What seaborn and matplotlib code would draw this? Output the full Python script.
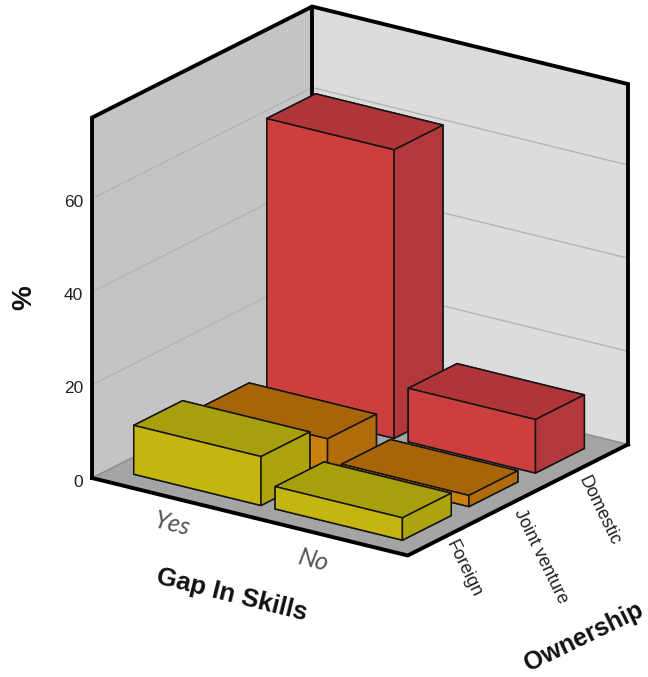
import matplotlib
matplotlib.use("Agg")
import matplotlib.pyplot as plt
import numpy as np
import pandas as pd
import seaborn as sns
from mpl_toolkits.mplot3d import proj3d
from mpl_toolkits.mplot3d.art3d import Poly3DCollection

# Survey percentages by skills gap and ownership type
gap_levels = ["Yes", "No"]
ownership_levels = ["Foreign", "Joint venture", "Domestic"]
pct_foreign = [10.5, 4.8]
pct_joint = [7.1, 2.4]
pct_domestic = [62.0, 11.5]
z_ticks = [0, 20, 40, 60]
z_top = 77.4

table = pd.DataFrame(
    {"Foreign": pct_foreign, "Joint venture": pct_joint, "Domestic": pct_domestic},
    index=gap_levels,
)

# Face shades per ownership type: front, top, side
face_shades = {
    "Foreign": sns.color_palette(["#c4b60e", "#a89f0c", "#ada30c"]),
    "Joint venture": sns.color_palette(["#c9800f", "#a86508", "#b06c0a"]),
    "Domestic": sns.color_palette(["#cd3f3f", "#af3538", "#b2383b"]),
}

sns.set_theme(style="white")
plt.rcParams["font.family"] = ["Liberation Sans", "DejaVu Sans"]

W, H = 648, 677
fig = plt.figure(figsize=(W / 100, H / 100), dpi=100, facecolor="white")
ax = fig.add_axes([0, 0, 1, 1], projection="3d", computed_zorder=False)
ax.set_proj_type("ortho")
ax.view_init(elev=20.6, azim=-55.1)
ax.set_axis_off()

xlo, xhi = -0.613, 1.620
ylo, yhi = -0.648, 2.662
ax.set_xlim(xlo, xhi)
ax.set_ylim(ylo, yhi)
ax.set_zlim(0, z_top)
ax.set_box_aspect((1, 1, 1), zoom=1.0)


def screen(x, y, z):
    """Display-space pixel position of a data point."""
    ax.apply_aspect()
    px, py, _ = proj3d.proj_transform(x, y, z, ax.get_proj())
    return ax.transData.transform((px, py))


# Scale and place the cube so the floor spans its intended pixel box
span = screen(xhi, yhi, 0)[0] - screen(xlo, ylo, 0)[0]
ax.set_box_aspect((1, 1, 1), zoom=536.0 / span)
corner = screen(xlo, ylo, 0)
ax.set_position([(92 - corner[0]) / W, ((H - 478) - corner[1]) / H, 1, 1])

# Walls and floor
left_wall = [(xlo, ylo, 0), (xlo, yhi, 0), (xlo, yhi, z_top), (xlo, ylo, z_top)]
right_wall = [(xlo, yhi, 0), (xhi, yhi, 0), (xhi, yhi, z_top), (xlo, yhi, z_top)]
floor = [(xlo, ylo, 0), (xhi, ylo, 0), (xhi, yhi, 0), (xlo, yhi, 0)]
for verts, shade in [(left_wall, "#c4c4c4"), (right_wall, "#dcdcdc"), (floor, "#a4a4a4")]:
    ax.add_collection3d(
        Poly3DCollection([verts], facecolor=shade, edgecolor="none", zorder=1),
        autolim=False,
    )

# Value gridlines running along both walls
for z in z_ticks:
    ax.plot([xlo, xlo, xhi], [ylo, yhi, yhi], [z, z, z],
            color="#b4b4b4" if z else "#8c8c8c", lw=1.0, zorder=2)

# Heavy frame around the cube
frame_lw = 2.8
frame_paths = [
    ([xlo, xlo, xlo, xhi, xhi], [ylo, ylo, yhi, yhi, yhi], [0, z_top, z_top, z_top, 0]),
    ([xlo, xlo], [yhi, yhi], [z_top, 0]),
    ([xlo, xhi, xhi], [ylo, ylo, yhi], [0, 0, 0]),
]
for xs, ys, zs in frame_paths:
    ax.plot(xs, ys, zs, color="black", lw=frame_lw, zorder=3,
            solid_joinstyle="miter", solid_capstyle="projecting")

# Bars from the back row forward, left to right inside a row
bar_w, bar_d = 0.90, 0.734
order = 10
for row in reversed(ownership_levels):
    front, top, side = face_shades[row]
    y_pos = ownership_levels.index(row)
    for x_pos, level in enumerate(gap_levels):
        # Faces in bar3d order: -z, +z, -y, +y, -x, +x
        colors = [front, top, front, side, side, side]
        ax.bar3d(x_pos - bar_w / 2, y_pos - bar_d / 2, 0, bar_w, bar_d,
                 table.loc[level, row], color=colors, edgecolor="#141414",
                 linewidth=1.1, shade=False, zorder=order)
        order += 1


def label_at(anchor, dx, dy, text, **kw):
    ax.annotate(text, xy=anchor, xycoords="figure pixels", xytext=(dx, dy),
                textcoords="offset pixels", ha=kw.pop("ha", "center"), va="center",
                rotation_mode="anchor", annotation_clip=False, **kw)


# Value axis labels
for z in z_ticks:
    label_at(screen(xlo, ylo, z), -9, -4, str(z), ha="right", fontsize=12.5, color="#222222")

# Category labels along the two floor edges
gap_offsets = [(-6, -25), (-7, -26)]
for i, level in enumerate(gap_levels):
    label_at(screen(i, ylo, 0), *gap_offsets[i], level, fontsize=18, rotation=-14,
             color="#555555", family=["Lato", "DejaVu Sans"], style="italic")

own_offsets = [(13, -35), (23, -56), (15, -44)]
for j, level in enumerate(ownership_levels):
    label_at(screen(xhi, j, 0), *own_offsets[j], level, fontsize=13, rotation=-64,
             color="#222222")

# Axis titles
fig.text(24 / W, 1 - 298 / H, "%", fontsize=20, fontweight="bold", rotation=90,
         ha="center", va="center", color="#111111")
fig.text(232 / W, 1 - 595 / H, "Gap In Skills", fontsize=18.5, fontweight="bold", rotation=-14,
         ha="center", va="center", rotation_mode="anchor", color="#111111")
fig.text(584 / W, 1 - 637 / H, "Ownership", fontsize=18, fontweight="bold", rotation=26,
         ha="center", va="center", rotation_mode="anchor", color="#111111")

fig.savefig("out.png", dpi=100, facecolor="white")
